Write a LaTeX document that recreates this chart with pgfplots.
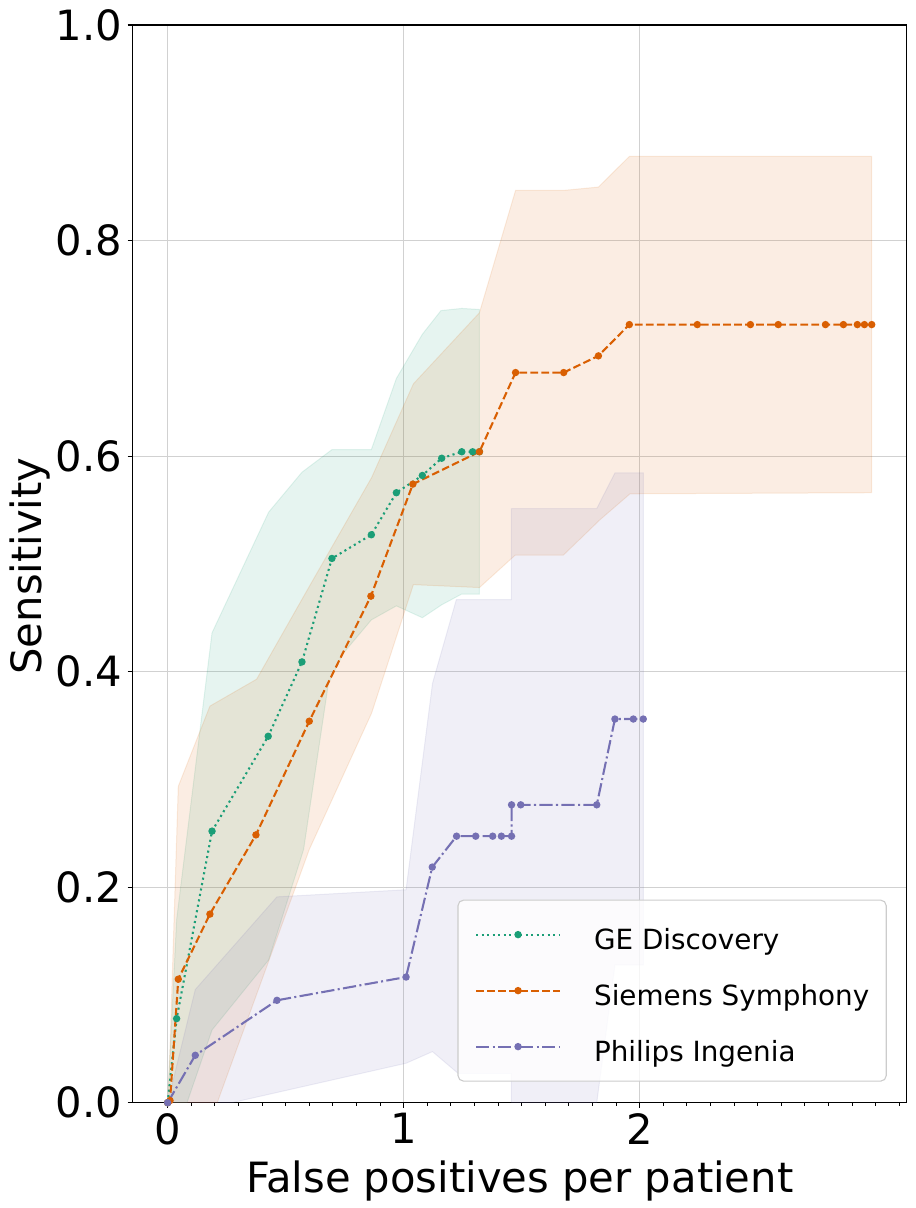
\documentclass[border=0pt]{standalone}
\usepackage{fontspec}
\setmainfont{DejaVu Sans}
\usepackage{pgfplots}
\pgfplotsset{compat=1.18}
\definecolor{cge}{HTML}{1B9E77}
\definecolor{csi}{HTML}{D95F02}
\definecolor{cph}{HTML}{7570B3}
\newcommand{\bigf}{\fontsize{41.7}{50}\selectfont}
\newcommand{\legf}{\fontsize{27.8}{33}\selectfont}
\begin{document}
\begin{tikzpicture}[x=1pt,y=1pt]
\path[use as bounding box] (0,0) rectangle (916,1208);
\begin{axis}[
  at={(132.5pt,105.3pt)}, anchor=south west,
  scale only axis, width=774.4pt, height=1077.7pt,
  xmin=-0.149, xmax=3.132, ymin=0, ymax=1,
  xtick={0,1,2}, xticklabels={0,1,2},
  minor xtick={0.1,0.2,0.3,0.4,0.5,0.6,0.7,0.8,0.9,1.1,1.2,1.3,1.4,1.5,1.6,1.7,1.8,1.9,2.1,2.2,2.3,2.4,2.5,2.6,2.7,2.8,2.9,3.0,3.1},
  ytick={0,0.2,0.4,0.6,0.8,1.0}, yticklabels={0.0,0.2,0.4,0.6,0.8,1.0},
  tick pos=left, tick align=outside,
  major tick length=4.9pt, minor tick length=2.8pt,
  every tick/.style={black, line width=1.1pt},
  axis line style={line width=1.1pt},
  xmajorgrids, ymajorgrids,
  major grid style={black!18, line width=1.1pt},
  tick label style={font=\bigf, inner sep=0pt},
  xticklabel style={yshift=-5.4pt},
  yticklabel style={xshift=-5.5pt},
  xlabel={False positives per patient},
  xlabel style={at={(axis description cs:0.5,-0.0829)}, anchor=base, font=\bigf, inner sep=0pt},
  ylabel={Sensitivity},
  ylabel style={at={(axis description cs:-0.1173,0.498)}, anchor=base, font=\bigf, inner sep=0pt},
  legend image code/.code={\draw[mark repeat=2,mark phase=2,fill opacity=1,draw opacity=1,#1] plot coordinates {(0pt,0pt) (42pt,0pt) (84pt,0pt)};},
  legend cell align=left,
  legend style={at={(axis description cs:0.974,0.0195)}, anchor=south east,
    draw=black!20, line width=1.1pt, rounded corners=5.5pt,
    fill=white, fill opacity=0.8, draw opacity=1, text opacity=1,
    inner xsep=17pt, inner ysep=19.5pt, row sep=26pt, column sep=33pt,
    font=\legf, nodes={inner sep=0pt, text height=30pt, text depth=0pt}},
]
% ---- confidence bands ----
\addplot[forget plot, fill=cge, fill opacity=0.11, draw=cge, draw opacity=0.12, line width=1pt] coordinates {
(0,0) (0.038,0.17) (0.188,0.436) (0.428,0.548) (0.569,0.585) (0.696,0.606) (0.863,0.606) (0.969,0.672) (1.079,0.713) (1.158,0.735) (1.246,0.737) (1.321,0.736)
(1.321,0.472) (1.246,0.472) (1.161,0.462) (1.079,0.450) (0.969,0.461) (0.863,0.448) (0.744,0.417) (0.681,0.389) (0.576,0.235) (0.428,0.1325) (0.188,0.0675) (0.082,0) (0,0)
} -- cycle;
\addplot[forget plot, fill=csi, fill opacity=0.11, draw=csi, draw opacity=0.12, line width=1pt] coordinates {
(0,0) (0.01,0.05) (0.045,0.2935) (0.179,0.368) (0.377,0.393) (0.600,0.479) (0.864,0.580) (1.041,0.667) (1.321,0.733) (1.474,0.8465) (1.678,0.8465) (1.825,0.8496) (1.956,0.878) (2.983,0.878)
(2.983,0.566) (1.959,0.565) (1.832,0.541) (1.676,0.508) (1.472,0.508) (1.321,0.478) (1.041,0.4807) (0.864,0.3615) (0.600,0.235) (0.21,0) (0,0)
} -- cycle;
\addplot[forget plot, fill=cph, fill opacity=0.11, draw=cph, draw opacity=0.12, line width=1pt] coordinates {
(0,0) (0.117,0.105) (0.463,0.191) (1.010,0.1976) (1.122,0.389) (1.223,0.4668) (1.456,0.4668) (1.456,0.5513) (1.818,0.5513) (1.895,0.5844) (2.015,0.5844)
(2.015,0.128) (1.895,0.128) (1.818,0) (1.456,0) (1.456,0.0273) (1.23,0.0273) (1.122,0.0474) (1.010,0.0366) (0.272,0) (0,0)
} -- cycle;
% ---- curves ----
\addplot[cge, line width=2.08pt, dash pattern=on 2.08pt off 3.43pt, mark=*, mark size=2.6pt, mark options={solid, fill=cge, draw=cge}] coordinates {
(0,0) (0.038,0.078) (0.188,0.252) (0.426,0.340) (0.569,0.409) (0.696,0.505) (0.863,0.527) (0.969,0.566) (1.079,0.582) (1.161,0.598) (1.246,0.604) (1.292,0.604) (1.321,0.604)
};
\addlegendentry{GE Discovery}
\addplot[csi, line width=2.08pt, dash pattern=on 7.7pt off 3.33pt, mark=*, mark size=2.6pt, mark options={solid, fill=csi, draw=csi}] coordinates {
(0,0) (0.01,0.002) (0.045,0.1146) (0.179,0.175) (0.374,0.2485) (0.600,0.354) (0.861,0.470) (1.039,0.574) (1.321,0.604) (1.474,0.6775) (1.678,0.6775) (1.825,0.693) (1.956,0.722) (2.244,0.722) (2.469,0.722) (2.587,0.722) (2.787,0.722) (2.863,0.722) (2.922,0.722) (2.952,0.722) (2.983,0.722)
};
\addlegendentry{Siemens Symphony}
\addplot[cph, line width=2.08pt, dash pattern=on 13.3pt off 3.33pt on 2.08pt off 3.33pt, mark=*, mark size=2.6pt, mark options={solid, fill=cph, draw=cph}] coordinates {
(0,0) (0.117,0.044) (0.463,0.095) (1.010,0.1166) (1.121,0.2186) (1.224,0.2473) (1.305,0.2473) (1.377,0.2473) (1.414,0.2473) (1.457,0.2473) (1.457,0.2764) (1.496,0.2764) (1.818,0.2764) (1.895,0.356) (1.973,0.356) (2.015,0.356)
};
\addlegendentry{Philips Ingenia}
\end{axis}
\end{tikzpicture}
\end{document}
